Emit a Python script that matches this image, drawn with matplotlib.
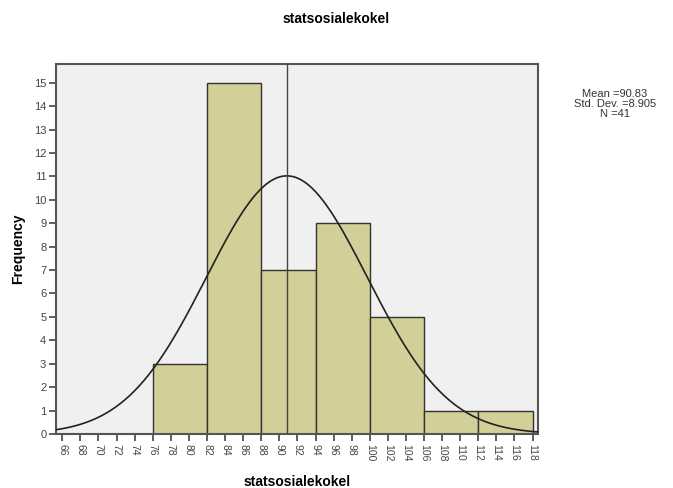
import numpy as np
import matplotlib
matplotlib.use("Agg")
import matplotlib.pyplot as plt

bin_edges = [76, 82, 88, 94, 100, 106, 112, 118]
counts = [3, 15, 7, 9, 5, 1, 1]
mean = 90.83
std = 8.905
n = 41
x_ticks = list(range(66, 119, 2))
y_ticks = list(range(0, 16))

plt.rcParams['font.family'] = ['Liberation Sans', 'DejaVu Sans']

fig = plt.figure(figsize=(6.73, 4.88), dpi=100)
ax = fig.add_axes([0.0832, 0.1107, 0.7162, 0.7583])
ax.set_facecolor('#f0f0f0')

widths = np.diff(bin_edges)
ax.bar(bin_edges[:-1], counts, width=widths, align='edge', color='#d3cf98',
       edgecolor='#333333', linewidth=1.0, zorder=2)

xs = np.linspace(65.3, 118.6, 400)
binw = widths[0]
ys = n * binw / (std * np.sqrt(2 * np.pi)) * np.exp(-0.5 * ((xs - mean) / std) ** 2)
ax.plot(xs, ys, color='#222222', linewidth=1.2, zorder=3)
ax.axvline(mean, color='#444444', linewidth=1.0, zorder=3)

ax.set_xlim(65.3, 118.6)
ax.set_ylim(0, 15.8)
ax.set_xticks(x_ticks)
ax.set_xticklabels([str(t) for t in x_ticks], rotation=270, fontsize=7.5, color='#444444')
ax.set_yticks(y_ticks)
ax.set_yticklabels([str(t) for t in y_ticks], fontsize=8, color='#444444')
ax.tick_params(axis='both', direction='out', length=5, width=1.2, color='#444444', pad=2)
for s in ax.spines.values():
    s.set_color('#555555')
    s.set_linewidth(1.5)

ax.set_xlabel('statsosialekokel', fontsize=10, fontweight='bold', labelpad=10)
ax.set_ylabel('Frequency', fontsize=10, fontweight='bold', labelpad=6)
fig.text(0.5, 0.962, 'statsosialekokel', ha='center', va='center', fontsize=10, fontweight='bold')

fig.text(0.914, 0.787, 'Mean =%.2f\nStd. Dev. =%.3f\nN =%d' % (mean, std, n),
         ha='center', va='center', fontsize=8, linespacing=0.95, color='#333333')

fig.savefig('out.png', dpi=100)
